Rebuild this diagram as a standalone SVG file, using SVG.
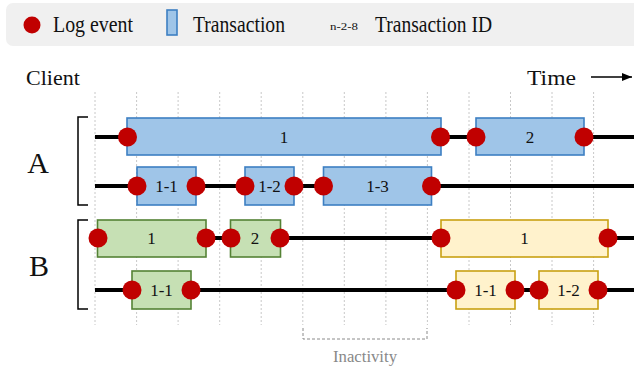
<svg xmlns="http://www.w3.org/2000/svg" width="634" height="366" viewBox="0 0 634 366" font-family="'Liberation Serif', 'DejaVu Serif', serif">
<style>
text{fill:#111}
.grid{stroke:#c8c8c8;stroke-width:1;stroke-dasharray:2,2}
.tl{stroke:#000;stroke-width:4;fill:none}
.ev{fill:#c00000}
.blue{fill:#9fc5e8;stroke:#3d7fc2;stroke-width:1.6}
.green{fill:#c6e0b4;stroke:#548235;stroke-width:1.6}
.yellow{fill:#fff2cc;stroke:#c9a012;stroke-width:1.6}
.lbl{font-size:17px;text-anchor:middle}
.brk{stroke:#000;stroke-width:1.5;fill:none}
</style>
<defs>
<marker id="arr" markerWidth="10" markerHeight="8" refX="10" refY="4" orient="auto" markerUnits="userSpaceOnUse">
<path d="M0,0 L10,4 L0,8 Z" fill="#000"/>
</marker>
</defs>
<rect width="634" height="366" fill="#fff"/>
<g id="legend">
<rect x="6" y="3" width="640" height="43" rx="7" fill="#f0f0f0"/>
<circle cx="32" cy="25" r="8.5" class="ev"/>
<text x="53" y="32" font-size="24" textLength="80" lengthAdjust="spacingAndGlyphs">Log event</text>
<rect x="167" y="10" width="10" height="25" class="blue"/>
<text x="193" y="32" font-size="24" textLength="92" lengthAdjust="spacingAndGlyphs">Transaction</text>
<text x="330" y="30" font-size="11" textLength="28" lengthAdjust="spacingAndGlyphs">n-2-8</text>
<text x="375" y="32" font-size="24" textLength="117" lengthAdjust="spacingAndGlyphs">Transaction ID</text>
</g>
<g id="header">
<text x="26" y="85" font-size="22">Client</text>
<text x="527" y="85" font-size="22" textLength="49" lengthAdjust="spacingAndGlyphs">Time</text>
<line x1="591" y1="77" x2="632" y2="77" stroke="#000" stroke-width="1.5" marker-end="url(#arr)"/>
</g>
<g id="grid">
<line class="grid" x1="95" y1="92" x2="95" y2="325"/>
<line class="grid" x1="136.6" y1="92" x2="136.6" y2="325"/>
<line class="grid" x1="178.1" y1="92" x2="178.1" y2="325"/>
<line class="grid" x1="219.7" y1="92" x2="219.7" y2="325"/>
<line class="grid" x1="261.2" y1="92" x2="261.2" y2="325"/>
<line class="grid" x1="302.8" y1="92" x2="302.8" y2="325"/>
<line class="grid" x1="344.3" y1="92" x2="344.3" y2="325"/>
<line class="grid" x1="385.9" y1="92" x2="385.9" y2="325"/>
<line class="grid" x1="427.4" y1="92" x2="427.4" y2="325"/>
<line class="grid" x1="469" y1="92" x2="469" y2="325"/>
<line class="grid" x1="510.5" y1="92" x2="510.5" y2="325"/>
<line class="grid" x1="552" y1="92" x2="552" y2="325"/>
<line class="grid" x1="593.6" y1="92" x2="593.6" y2="325"/>
</g>
<g id="clients">
<text x="38" y="173" font-size="30" text-anchor="middle">A</text>
<path class="brk" d="M88,117 H78 V205 H88"/>
<text x="39" y="276" font-size="30" text-anchor="middle">B</text>
<path class="brk" d="M88,220 H78 V309 H88"/>
</g>
<g id="connectors">
<line class="tl" x1="95" y1="137" x2="634" y2="137"/>
<line class="tl" x1="95" y1="186" x2="634" y2="186"/>
<line class="tl" x1="95" y1="238" x2="634" y2="238"/>
<line class="tl" x1="95" y1="290" x2="634" y2="290"/>
</g>
<g id="A-1">
<rect x="127" y="118" width="314" height="37" class="blue"/>
<text class="lbl" x="284" y="143">1</text>
<circle cx="127.5" cy="137" r="9.5" class="ev"/>
<circle cx="440.5" cy="137" r="9.5" class="ev"/>
</g>
<g id="A-2">
<rect x="476" y="118" width="108" height="37" class="blue"/>
<text class="lbl" x="530" y="143">2</text>
<circle cx="476" cy="137" r="9.5" class="ev"/>
<circle cx="584" cy="137" r="9.5" class="ev"/>
</g>
<g id="A-1-1">
<rect x="137" y="167" width="59" height="38" class="blue"/>
<text class="lbl" x="166.5" y="192">1-1</text>
<circle cx="137" cy="186" r="9.5" class="ev"/>
<circle cx="196" cy="186" r="9.5" class="ev"/>
</g>
<g id="A-1-2">
<rect x="245" y="167" width="49" height="38" class="blue"/>
<text class="lbl" x="269.5" y="192">1-2</text>
<circle cx="245" cy="186" r="9.5" class="ev"/>
<circle cx="294" cy="186" r="9.5" class="ev"/>
</g>
<g id="A-1-3">
<rect x="323.5" y="167" width="108" height="38" class="blue"/>
<text class="lbl" x="377.5" y="192">1-3</text>
<circle cx="323.5" cy="186" r="9.5" class="ev"/>
<circle cx="431.5" cy="186" r="9.5" class="ev"/>
</g>
<g id="B-1">
<rect x="97.5" y="220" width="108.5" height="37" class="green"/>
<text class="lbl" x="151.5" y="244">1</text>
<circle cx="98" cy="238" r="9.5" class="ev"/>
<circle cx="206" cy="238" r="9.5" class="ev"/>
</g>
<g id="B-2">
<rect x="230.5" y="220" width="50" height="37" class="green"/>
<text class="lbl" x="255" y="244">2</text>
<circle cx="231" cy="238" r="9.5" class="ev"/>
<circle cx="280" cy="238" r="9.5" class="ev"/>
</g>
<g id="B-3">
<rect x="441" y="220" width="167" height="37" class="yellow"/>
<text class="lbl" x="524.5" y="244">1</text>
<circle cx="441" cy="238" r="9.5" class="ev"/>
<circle cx="608" cy="238" r="9.5" class="ev"/>
</g>
<g id="B-1-1">
<rect x="132" y="271" width="59" height="38" class="green"/>
<text class="lbl" x="161.5" y="296">1-1</text>
<circle cx="132" cy="290" r="9.5" class="ev"/>
<circle cx="191" cy="290" r="9.5" class="ev"/>
</g>
<g id="B-3-1">
<rect x="456" y="271" width="59" height="38" class="yellow"/>
<text class="lbl" x="485.5" y="296">1-1</text>
<circle cx="456" cy="290" r="9.5" class="ev"/>
<circle cx="515" cy="290" r="9.5" class="ev"/>
</g>
<g id="B-3-2">
<rect x="539" y="271" width="59" height="38" class="yellow"/>
<text class="lbl" x="568.5" y="296">1-2</text>
<circle cx="539" cy="290" r="9.5" class="ev"/>
<circle cx="598" cy="290" r="9.5" class="ev"/>
</g>
<g id="inactivity">
<path d="M303,328 V339 H427 V328" fill="none" stroke="#8a8a8a" stroke-width="1" stroke-dasharray="3,2"/>
<text x="365" y="362" font-size="16" text-anchor="middle" style="fill:#888" textLength="64" lengthAdjust="spacingAndGlyphs">Inactivity</text>
</g>
</svg>
